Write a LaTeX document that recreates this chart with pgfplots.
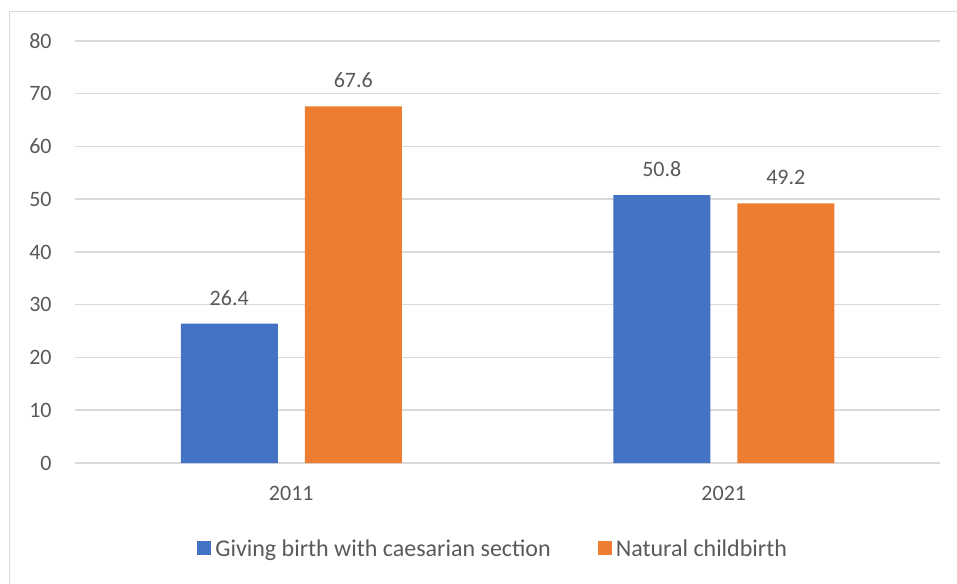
\documentclass[border=0pt]{standalone}
\usepackage{pgfplots}
\pgfplotsset{compat=1.18}
\usepackage{fontspec}
\setmainfont{Carlito}
\definecolor{txt}{HTML}{595959}
\definecolor{gridc}{HTML}{D9D9D9}
\definecolor{cblue}{HTML}{4472C4}
\definecolor{corange}{HTML}{ED7D31}
\begin{document}
\begin{tikzpicture}
\useasboundingbox (0pt,0pt) rectangle (478.5pt,291.5pt);
\draw[gridc, line width=0.75pt] (4.75pt,-10pt) -- (4.75pt,285.75pt) -- (500pt,285.75pt);
\begin{axis}[
  at={(37.5pt,60pt)}, anchor=south west,
  scale only axis, width=432.5pt, height=211pt,
  ybar=13.5pt, bar width=48.5pt,
  xmin=-0.5, xmax=1.5, ymin=0, ymax=80,
  xtick={0,1}, xticklabels={2011,2021},
  ytick={0,10,...,80},
  axis line style={draw=none},
  major tick length=0pt,
  ymajorgrids=true, xmajorgrids=false,
  grid style={draw=gridc, line width=0.75pt},
  font=\fontsize{11pt}{13pt}\selectfont,
  tick label style={text=txt, font=\fontsize{11pt}{13pt}\selectfont},
  /pgf/number format/assume math mode=true,
  yticklabel style={anchor=east, inner sep=0pt, xshift=-11.5pt},
  xticklabel style={anchor=center, inner sep=0pt, yshift=-15pt},
  nodes near coords,
  every node near coord/.append style={text=txt, anchor=center, inner sep=0pt, yshift=13pt, font=\fontsize{11pt}{13pt}\selectfont},
  legend columns=2,
  legend style={draw=none, fill=none, at={(0.141,-0.2014)}, anchor=west, inner sep=0pt,
    text=txt, font=\fontsize{12pt}{14pt}\selectfont,
    /tikz/every even column/.append style={column sep=23.5pt},
    nodes={inner sep=0pt, text depth=0pt}},
  legend image code/.code={\fill[#1] (0pt,-3.5pt) rectangle (7pt,3.5pt);},
  legend cell align=left,
]
\addplot[fill=cblue, draw=none] coordinates {(0,26.4) (1,50.8)};
\addplot[fill=corange, draw=none] coordinates {(0,67.6) (1,49.2)};
\legend{\,Giving birth with caesarian section, \,Natural childbirth}
\end{axis}
\end{tikzpicture}
\end{document}
